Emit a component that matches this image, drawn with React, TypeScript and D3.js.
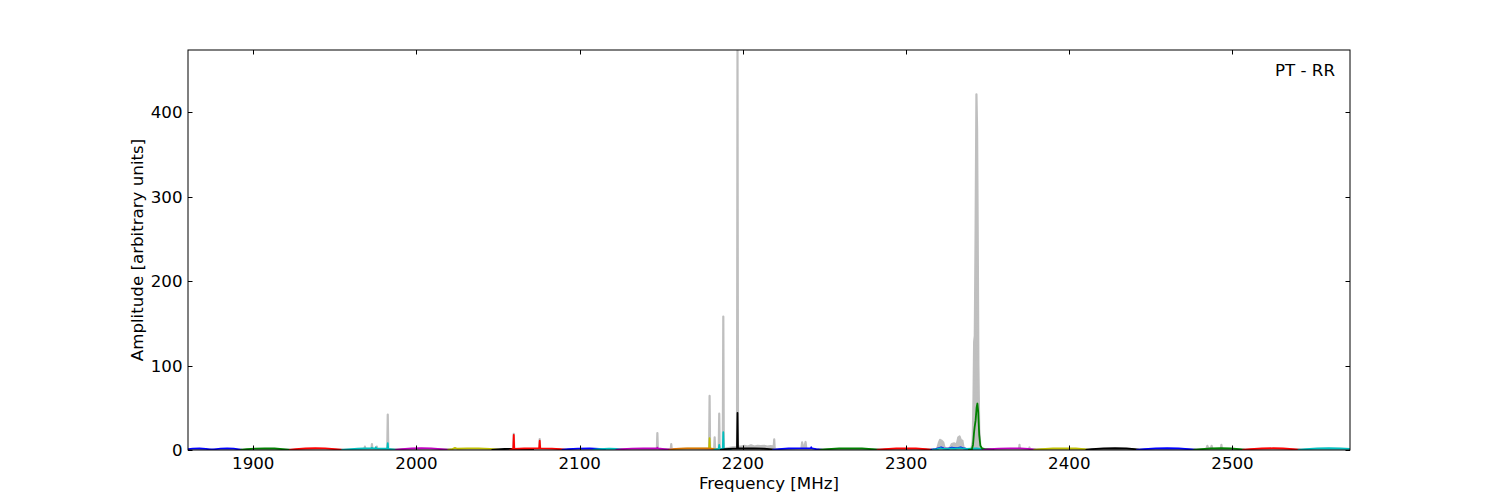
import React from 'react';
import * as d3 from 'd3';

type P = [number, number];

const X_TICKS = [1900, 2000, 2100, 2200, 2300, 2400, 2500];
const Y_TICKS = [0, 100, 200, 300, 400];
const X_DOMAIN: [number, number] = [1860, 2572];
const Y_DOMAIN: [number, number] = [0, 473.4];
const X_LABEL = 'Frequency [MHz]';
const Y_LABEL = 'Amplitude [arbitrary units]';
const TITLE = 'PT - RR';

const GRAY_SPECTRUM: P[] = [
  [1860, 0.5], [1966, 0.8], [1968.1, 1], [1968.4, 4], [1968.7, 1], [1972.4, 1], [1972.7, 7], [1973.0, 1],
  [1975.4, 1], [1975.7, 4], [1976.0, 1], [1982.1, 1], [1982.4, 42], [1982.7, 1],
  [2059.3, 1], [2059.6, 19], [2059.9, 1], [2075.2, 1], [2075.5, 13], [2075.8, 1],
  [2147.3, 1], [2147.6, 20], [2147.9, 1], [2155.8, 1], [2156.1, 7], [2156.4, 1],
  [2179.3, 1], [2179.6, 64], [2179.9, 1], [2182.4, 1], [2182.7, 15], [2183.0, 1],
  [2185.2, 1], [2185.5, 43], [2185.8, 1], [2187.7, 1], [2188.0, 158], [2188.3, 1],
  [2190, 2], [2192, 2.5], [2194, 3], [2196.4, 3.5], [2196.7, 480], [2197.0, 4],
  [2199, 4], [2201, 5], [2203, 4], [2205, 5.5], [2207, 4], [2209, 5], [2211, 4.5], [2213, 5], [2215, 4], [2217, 4.5],
  [2218.9, 4], [2219.2, 12.5], [2219.5, 1],
  [2235.8, 1], [2236.3, 9], [2236.8, 4], [2237.6, 3], [2238.4, 9.5], [2238.9, 1],
  [2319, 1], [2320, 8], [2320.8, 12], [2321.8, 11], [2322.8, 9], [2323.5, 3], [2325, 1.5],
  [2327, 3], [2328, 7], [2329.5, 8], [2330.5, 6], [2331.3, 9], [2332, 15], [2332.8, 16], [2333.5, 12],
  [2334.5, 11], [2335.2, 3], [2336.5, 1],
  [2340, 1], [2340.8, 10], [2341.3, 60], [2341.7, 128], [2342.1, 135], [2342.6, 260], [2343.1, 421],
  [2343.5, 380], [2343.9, 250], [2344.3, 100], [2344.8, 25], [2345.5, 5], [2346.5, 1],
  [2369.2, 1], [2369.5, 6], [2369.8, 1], [2375.3, 1], [2375.6, 3], [2375.9, 1],
  [2484, 1], [2484.6, 5], [2485.2, 2], [2486.8, 2], [2487.2, 5], [2487.7, 1], [2492.9, 1], [2493.2, 6], [2493.5, 1],
  [2572, 0.5],
];

const BAND_COLORS = [
  '#0000ff', '#0000ff', '#008000', '#ff0000', '#00bfbf', '#bf00bf', '#bfbf00', '#000000', '#ff0000',
  '#0000ff', '#00bfbf', '#bf00bf', '#bfbf00', '#ff0000', '#00bfbf', '#000000', '#0000ff', '#008000',
  '#ff0000', '#0000ff', '#00bfbf', '#008000', '#bf00bf', '#bfbf00', '#000000', '#0000ff', '#008000',
  '#ff0000', '#00bfbf',
];

const BAND_ALPHA = [
  1, 1, 1, 1, 1, 1, 1, 1, 1,
  1, 1, 1, 1, 0.4, 1, 1, 1, 1,
  1, 1, 1, 1, 1, 1, 1, 1, 1,
  1, 1,
];

const BAND_SPECTRA: P[][] = [
  [[1855, 0], [1859, 0.8], [1863, 1.6], [1867, 1.8], [1871, 1.3], [1874.5, 0.4], [1876, 0]],
  [[1873, 0], [1876, 0.8], [1880, 1.7], [1884, 2.0], [1888, 1.7], [1891, 0.8], [1893.5, 0]],
  [[1892, 0], [1896, 0.9], [1901, 1.7], [1907, 2.0], [1913, 1.8], [1918, 1.0], [1923, 0]],
  [[1922, 0], [1926, 1.0], [1932, 1.8], [1938, 2.1], [1944, 1.9], [1950, 1.0], [1955, 0]],
  [[1954, 0], [1958, 0.8], [1964, 1.5], [1968, 1.8], [1972.4, 1.9], [1972.7, 2.8], [1973.0, 1.9],
    [1974.8, 1.8], [1975.1, 3.2], [1975.4, 1.8], [1982.1, 1.5], [1982.4, 8], [1982.7, 1.3], [1985, 0.8], [1988, 0]],
  [[1987, 0], [1991, 1.0], [1997, 1.8], [2003, 2.1], [2009, 1.9], [2015, 1.0], [2020, 0]],
  [[2019, 0], [2022, 1.0], [2023.6, 2.5], [2025, 1.5], [2031, 2.0], [2038, 2.0], [2045, 1.3], [2050, 0.4], [2052, 0]],
  [[2046, 0], [2050, 0.6], [2054, 1.2], [2060, 1.3], [2066, 1.0], [2072, 0]],
  [[2057, 0], [2059.3, 1.3], [2059.6, 18], [2059.9, 1.3], [2066, 1.8], [2072, 1.9], [2075.2, 1.9], [2075.5, 11],
    [2075.8, 1.9], [2083, 1.7], [2088, 0.9], [2092, 0]],
  [[2089, 0], [2093, 0.9], [2099, 1.7], [2106, 1.9], [2112, 1.3], [2116, 0]],
  [[2108, 0], [2112, 1.1], [2118, 1.7], [2123, 1.3], [2127, 0]],
  [[2122, 0], [2126, 1.0], [2132, 1.7], [2139, 2.0], [2147.3, 1.8], [2147.6, 2.8], [2147.9, 1.8], [2152, 1.1], [2157, 0]],
  [[2155, 0], [2159, 1.3], [2166, 1.9], [2173, 2.0], [2179.3, 1.9], [2179.6, 14], [2179.9, 1.8], [2183, 1.0], [2186, 0]],
  [[2154, 0], [2158, 1.3], [2165, 1.9], [2172, 2.0], [2178, 1.8], [2183, 1.0], [2187, 0]],
  [[2182, 0], [2185.2, 1.3], [2185.5, 6], [2185.8, 1.3], [2187.7, 1.5], [2188.0, 21], [2188.3, 1.3], [2191, 0.7], [2193, 0]],
  [[2186, 0], [2189, 1.0], [2194, 1.7], [2196.4, 1.8], [2196.7, 44], [2197.0, 1.8], [2207, 1.9], [2213, 1.5], [2218, 0.8], [2221, 0]],
  [[2218, 0], [2222, 1.0], [2228, 1.8], [2234, 2.0], [2241.5, 1.9], [2241.9, 3.2], [2242.3, 1.8], [2245, 1.0], [2249, 0]],
  [[2247, 0], [2252, 1.0], [2259, 1.8], [2266, 2.0], [2273, 1.8], [2279, 1.0], [2284, 0]],
  [[2282, 0], [2287, 1.0], [2294, 1.8], [2300, 2.0], [2306, 1.8], [2312, 1.0], [2316, 0]],
  [[2315, 0], [2318, 1.0], [2320, 2.2], [2321.5, 3.2], [2323, 2.0], [2326, 1.5], [2328, 2.7], [2330, 2.2], [2332, 2.4],
    [2333.5, 3.2], [2335.5, 1.8], [2338, 1.0], [2341, 0]],
  [[2316, 0], [2319, 1.0], [2321, 2.2], [2322.5, 1.7], [2326, 1.3], [2328, 1.8], [2330, 1.5], [2333, 2.2], [2334.5, 1.8],
    [2337, 1.3], [2340, 1.5], [2343, 1.8], [2346, 1.3], [2349, 0]],
  [[2338, 0], [2340.3, 0.8], [2341.0, 6], [2341.6, 20], [2342.0, 27], [2342.6, 35], [2343.2, 50], [2343.7, 55],
    [2344.2, 45], [2344.8, 18], [2345.5, 5], [2346.5, 2], [2348, 1.4], [2351, 1.0], [2354, 0]],
  [[2347, 0], [2351, 1.0], [2357, 1.7], [2364, 2.0], [2370, 1.9], [2375, 1.3], [2380, 0]],
  [[2378, 0], [2383, 1.0], [2390, 1.8], [2397, 2.0], [2404, 1.8], [2409, 1.0], [2412, 0]],
  [[2410, 0], [2414, 1.0], [2421, 1.8], [2428, 2.1], [2435, 1.8], [2440, 1.0], [2443, 0]],
  [[2441, 0], [2446, 1.0], [2453, 1.8], [2460, 2.1], [2467, 1.8], [2473, 1.0], [2478, 0]],
  [[2476, 0], [2481, 1.0], [2487, 1.8], [2493, 2.1], [2499, 1.8], [2504, 1.0], [2508, 0]],
  [[2506, 0], [2511, 1.0], [2518, 1.8], [2525, 2.1], [2531, 1.8], [2537, 1.0], [2542, 0]],
  [[2540, 0], [2545, 1.0], [2552, 1.8], [2559, 2.1], [2566, 1.8], [2572, 1.3]],
];

export default function App() {
  const W = 1500, H = 500;
  const L = 188, R = 1350, T = 50, B = 450;
  const x = d3.scaleLinear().domain(X_DOMAIN).range([L, R]);
  const y = d3.scaleLinear().domain(Y_DOMAIN).range([B, T]);
  const line = d3.line<P>().x(d => x(d[0])).y(d => y(d[1]));
  const area = d3.area<P>().x(d => x(d[0])).y0(y(0)).y1(d => y(d[1]));
  const font = "'DejaVu Sans', sans-serif";
  const fs = 16.67;
  const tl = 4.5;

  return (
    <svg width={W} height={H} style={{ position: 'absolute', left: 0, top: 0, background: '#fff' }}
      fontFamily={font} fontSize={fs}>
      <defs>
        <clipPath id="plot">
          <rect x={L} y={T} width={R - L} height={B - T} />
        </clipPath>
      </defs>
      <rect x={0} y={0} width={W} height={H} fill="#fff" />
      <g clipPath="url(#plot)">
        <path d={area(GRAY_SPECTRUM) || ''} fill="#bfbfbf" stroke="none" />
        <path d={line(GRAY_SPECTRUM) || ''} fill="none" stroke="#bfbfbf" strokeWidth={2.2} strokeLinejoin="round" />
        {BAND_SPECTRA.map((pts, i) => (
          <path key={i} d={line(pts) || ''} fill="none" stroke={BAND_COLORS[i]} strokeOpacity={BAND_ALPHA[i]}
            strokeWidth={1.8} strokeLinejoin="round" />
        ))}
      </g>
      <rect x={L} y={T} width={R - L} height={B - T} fill="none" stroke="#000" strokeWidth={1} />
      {X_TICKS.map(t => (
        <g key={'x' + t}>
          <line x1={Math.round(x(t)) + 0.5} x2={Math.round(x(t)) + 0.5} y1={B} y2={B - tl} stroke="#000" />
          <line x1={Math.round(x(t)) + 0.5} x2={Math.round(x(t)) + 0.5} y1={T} y2={T + tl} stroke="#000" />
          <text x={x(t)} y={B + 19} textAnchor="middle">{t}</text>
        </g>
      ))}
      {Y_TICKS.map(t => (
        <g key={'y' + t}>
          <line x1={L} x2={L + tl} y1={Math.round(y(t)) + 0.5} y2={Math.round(y(t)) + 0.5} stroke="#000" />
          <line x1={R} x2={R - tl} y1={Math.round(y(t)) + 0.5} y2={Math.round(y(t)) + 0.5} stroke="#000" />
          <text x={L - 5.5} y={y(t) + 6} textAnchor="end">{t}</text>
        </g>
      ))}
      <text x={(L + R) / 2} y={489} textAnchor="middle">{X_LABEL}</text>
      <text transform={`translate(143, ${(T + B) / 2}) rotate(-90)`} textAnchor="middle">{Y_LABEL}</text>
      <text x={1335} y={76} textAnchor="end">{TITLE}</text>
    </svg>
  );
}
